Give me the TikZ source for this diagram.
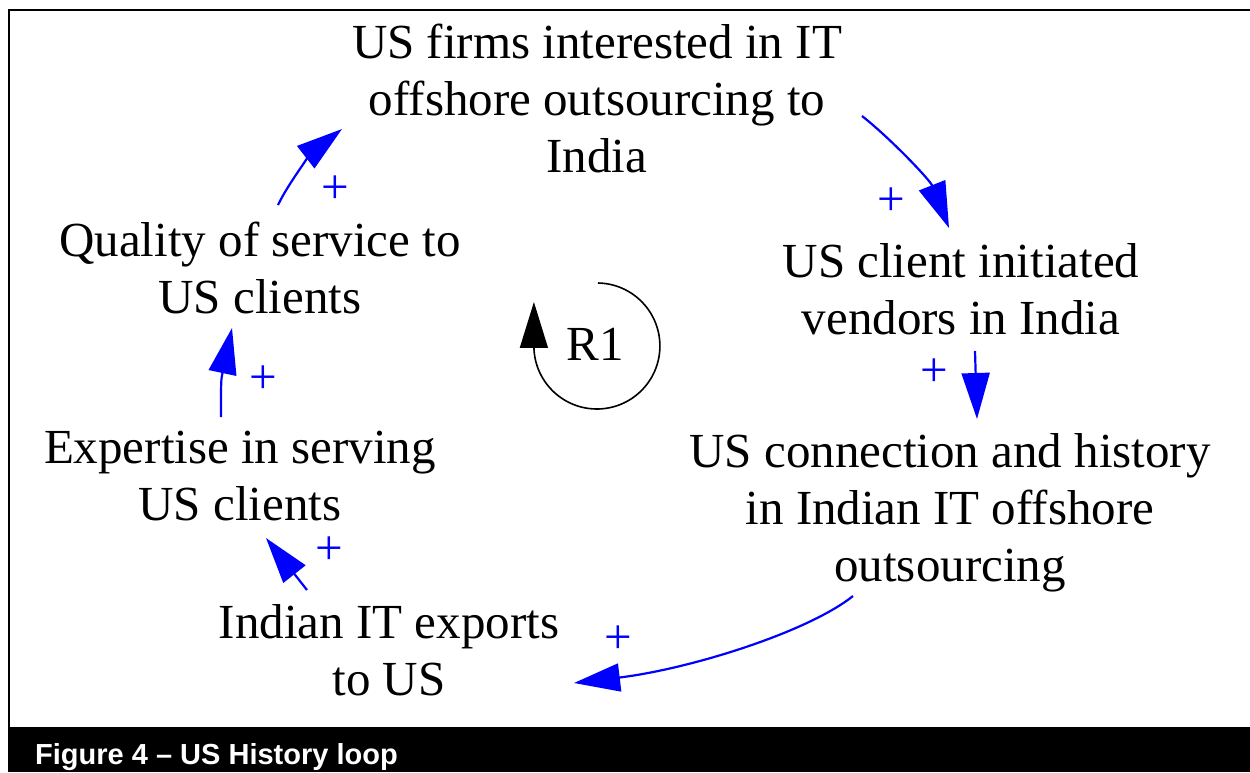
\documentclass[tikz,border=0pt]{standalone}
\usepackage{fontspec}
\setmainfont{Liberation Serif}
\newfontfamily\capfont{Liberation Sans}
\usetikzlibrary{arrows.meta}
\begin{document}
\begin{tikzpicture}[x=1pt,y=-1pt,
  var/.style={align=center, inner sep=0pt, font=\fontsize{49}{57}\selectfont},
  link/.style={blue, line width=2.2pt, -{Triangle[length=46pt,width=28pt]}},
  pol/.style={blue, inner sep=0pt, font=\fontsize{49}{49}\selectfont},
  loopar/.style={black, line width=1.6pt, -{Triangle[length=46pt,width=28pt]}},
]
\useasboundingbox (0,0) rectangle (1250,772);
\fill[white] (0,0) rectangle (1250,772);
\draw[line width=2.5pt] (9,727) -- (9,10) -- (1250,10);
\fill[black] (8,727) rectangle (1250,772);
\node[anchor=base west, inner sep=0pt, text=white, font=\capfont\bfseries\fontsize{29}{29}\selectfont] (cap) at (35,764) {Figure 4 – US History loop};

\node[var] (A) at (597,98) {US firms interested in IT\\offshore outsourcing to\\India};
\node[var] (B) at (961,289) {US client initiated\\vendors in India};
\node[var] (C) at (950,513) {US connection and history\\in Indian IT offshore\\outsourcing};
\node[var] (D) at (389,650) {Indian IT exports\\to US};
\node[var] (E) at (240,476) {Expertise in serving\\US clients};
\node[var] (F) at (260,268) {Quality of service to\\US clients};

\node[var] (R) at (595,344) {R1};

% connector end points
\coordinate (A-o) at (862,116); \coordinate (B-i) at (949,228);
\coordinate (B-o) at (975,351); \coordinate (C-i) at (977,419);
\coordinate (C-o) at (853,596); \coordinate (D-i) at (574,683);
\coordinate (D-o) at (307,590); \coordinate (E-i) at (266,538);
\coordinate (E-o) at (221,417); \coordinate (F-i) at (232,328);
\coordinate (F-o) at (278,205); \coordinate (A-i) at (342,129);
\coordinate (R-s) at (598,283);

\draw[link] (A-o) .. controls (890,138) and (930,180) .. (B-i);
\draw[link] (B-o) -- (C-i);
\draw[link] (C-o) .. controls (808,632) and (690,669) .. (D-i);
\draw[link] (D-o) -- (E-i);
\draw[link] (E-o) .. controls (221,380) .. (F-i);
\draw[link] (F-o) .. controls (290,180) and (315,150) .. (A-i);

\node[pol] (p1) at (891,202) {+};
\node[pol] (p2) at (934,373) {+};
\node[pol] (p3) at (618,640) {+};
\node[pol] (p4) at (329,551) {+};
\node[pol] (p5) at (263,380) {+};
\node[pol] (p6) at (335,190) {+};

\draw[loopar] (R-s) arc[start angle=-89, end angle=180, radius=63] -- ++(0,-44);
\end{tikzpicture}
\end{document}
